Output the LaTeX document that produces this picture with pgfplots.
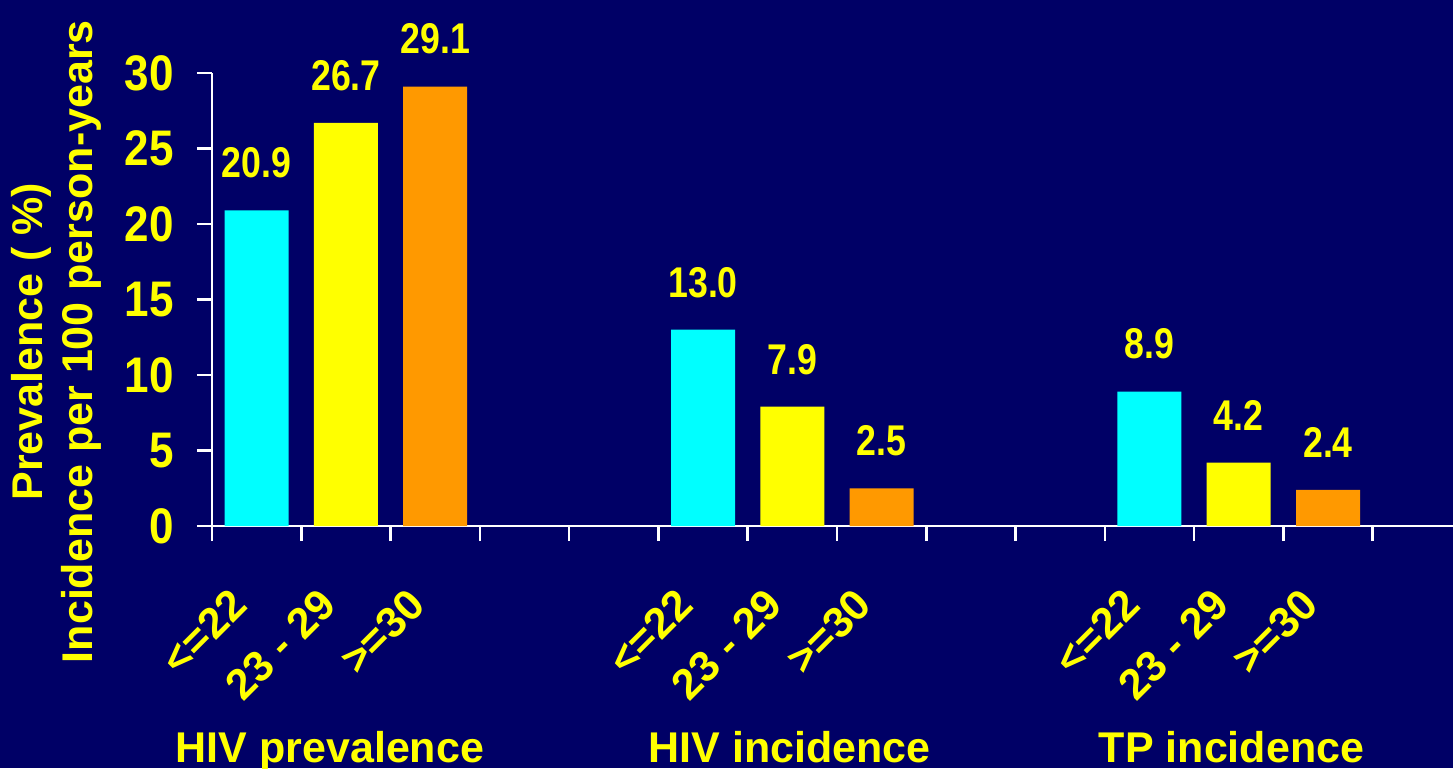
\documentclass[border=0pt]{standalone}
\usepackage{pgfplots}
\pgfplotsset{compat=1.18}
\usepackage{fontspec}
\setmainfont{Liberation Sans}
\newfontfamily\valfont[FakeStretch=0.83]{Liberation Sans}
\newfontfamily\yfont[FakeStretch=0.88]{Liberation Sans}
\definecolor{bg}{HTML}{000066}
\definecolor{barcyan}{HTML}{00FFFF}
\definecolor{baryellow}{HTML}{FFFF00}
\definecolor{barorange}{HTML}{FF9900}
\definecolor{txt}{HTML}{FFFF00}

\pgfplotsset{
  agebar/.style={
    ybar, bar width=64pt, draw=none,
    nodes near coords={\pgfmathprintnumber[fixed,fixed zerofill,precision=1,assume math mode=true]{\pgfplotspointmeta}},
    every node near coord/.append style={
      font=\valfont\bfseries\fontsize{43}{43}\selectfont,
      text=txt, anchor=south, inner sep=0pt, yshift=32pt},
  },
}

\begin{document}
\begin{tikzpicture}
\path[use as bounding box, fill=bg] (-212pt,-242pt) rectangle (1241pt,526pt);
\begin{axis}[
  at={(0pt,0pt)}, anchor=south west,
  scale only axis, width=1241pt, height=453pt,
  xmin=0, xmax=13.9, ymin=0, ymax=30,
  clip=false,
  axis x line=bottom, axis y line=left,
  axis line style={white, line width=2.5pt, -},
  tick style={white, line width=2.5pt},
  tick align=outside,
  major tick length=15pt,
  minor tick length=15pt,
  xtick={0.5,1.5,2.5,5.5,6.5,7.5,10.5,11.5,12.5},
  xticklabels={{<=22},{23 - 29},{>=30},{<=22},{23 - 29},{>=30},{<=22},{23 - 29},{>=30}},
  major x tick style={draw=none},
  minor xtick={0,1,...,13},
  xticklabel style={xshift=-18pt, yshift=-56pt, rotate=45, anchor=east, inner sep=0pt,
    font=\bfseries\fontsize{43}{43}\selectfont, text=txt},
  ytick={0,5,...,30},
  yticklabel style={font=\yfont\bfseries\fontsize{50}{50}\selectfont,
    text=txt, inner sep=0pt, xshift=-23pt},
  /pgf/number format/assume math mode=true,
  ylabel={Prevalence ( \%)\\Incidence per 100 person-years},
  ylabel style={at={(axis description cs:-0.125,0.407)}, anchor=center,
    align=center, font=\bfseries\fontsize{43}{50}\selectfont, text=txt},
]
% ages <=22
\addplot[agebar, fill=barcyan] coordinates {(0.5,20.9) (5.5,13.0) (10.5,8.9)};
% ages 23-29
\addplot[agebar, fill=baryellow] coordinates {(1.5,26.7) (6.5,7.9) (11.5,4.2)};
% ages >=30
\addplot[agebar, fill=barorange] coordinates {(2.5,29.1) (7.5,2.5) (12.5,2.4)};

\node[font=\bfseries\fontsize{43}{43}\selectfont, text=txt, anchor=base, yshift=-236pt]
  at (axis cs:1.321,0) {HIV prevalence};
\node[font=\bfseries\fontsize{43}{43}\selectfont, text=txt, anchor=base, yshift=-236pt]
  at (axis cs:6.47,0) {HIV incidence};
\node[font=\bfseries\fontsize{43}{43}\selectfont, text=txt, anchor=base, yshift=-236pt]
  at (axis cs:11.42,0) {TP incidence};
\end{axis}
\end{tikzpicture}
\end{document}
